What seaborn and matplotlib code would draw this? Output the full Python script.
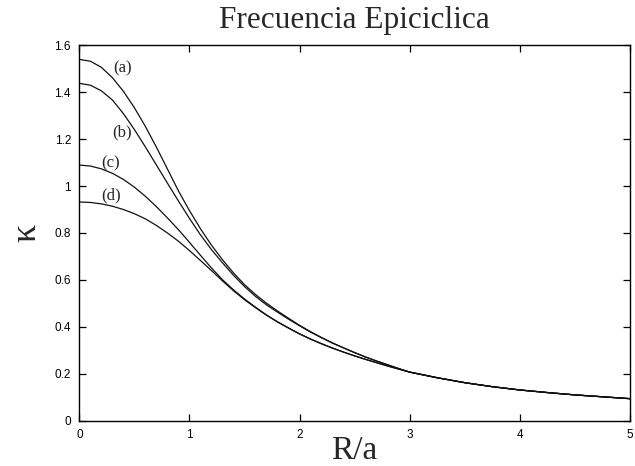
import numpy as np
import pandas as pd
import matplotlib
matplotlib.use("Agg")
import matplotlib.pyplot as plt
import seaborn as sns

# Radius in units of the scale length a
r_over_a = [0.0, 0.1, 0.2, 0.3, 0.4, 0.5, 0.6, 0.7, 0.8, 0.9,
            1.0, 1.1, 1.2, 1.3, 1.4, 1.5, 1.6, 1.7, 1.8, 1.9,
            2.0, 2.1, 2.2, 2.3, 2.4, 2.5, 2.6, 2.7, 2.8, 2.9,
            3.0, 3.25, 3.5, 3.75, 4.0, 4.25, 4.5, 4.75, 5.0]

# Epicyclic frequency for the four models
kappa_a = [1.539, 1.531, 1.505, 1.461, 1.403, 1.333, 1.253, 1.165, 1.072, 0.979,
           0.895, 0.818, 0.748, 0.686, 0.630, 0.580, 0.538, 0.501, 0.468, 0.437,
           0.407, 0.380, 0.355, 0.332, 0.311, 0.291, 0.272, 0.255, 0.239, 0.223,
           0.208, 0.184, 0.163, 0.146, 0.132, 0.121, 0.111, 0.103, 0.095]
kappa_b = [1.437, 1.429, 1.405, 1.366, 1.308, 1.240, 1.166, 1.089, 1.012, 0.936,
           0.862, 0.792, 0.729, 0.673, 0.620, 0.572, 0.530, 0.494, 0.463, 0.433,
           0.405, 0.378, 0.354, 0.331, 0.311, 0.291, 0.272, 0.255, 0.239, 0.223,
           0.208, 0.184, 0.163, 0.146, 0.132, 0.121, 0.111, 0.103, 0.095]
kappa_c = [1.089, 1.085, 1.073, 1.054, 1.028, 0.995, 0.956, 0.912, 0.864, 0.814,
           0.760, 0.705, 0.651, 0.601, 0.558, 0.519, 0.484, 0.451, 0.422, 0.396,
           0.371, 0.349, 0.329, 0.310, 0.293, 0.277, 0.262, 0.248, 0.234, 0.221,
           0.208, 0.184, 0.163, 0.146, 0.132, 0.121, 0.111, 0.103, 0.095]
kappa_d = [0.932, 0.930, 0.924, 0.914, 0.900, 0.882, 0.860, 0.832, 0.800, 0.765,
           0.725, 0.683, 0.640, 0.596, 0.554, 0.516, 0.482, 0.450, 0.421, 0.395,
           0.370, 0.348, 0.328, 0.310, 0.293, 0.277, 0.262, 0.248, 0.234, 0.221,
           0.208, 0.184, 0.163, 0.146, 0.132, 0.121, 0.111, 0.103, 0.095]

curve_names = ["(a)", "(b)", "(c)", "(d)"]
# label anchor points (R/a, kappa)
label_x = [0.388, 0.388, 0.287, 0.287]
label_y = [1.502, 1.230, 1.098, 0.962]

x_ticks = [0, 1, 2, 3, 4, 5]
y_ticks = [0, 0.2, 0.4, 0.6, 0.8, 1.0, 1.2, 1.4, 1.6]

sns.set_style("ticks")
plt.rcParams["font.family"] = ["Liberation Sans", "DejaVu Sans"]

frames = []
for name, vals in zip(curve_names, [kappa_a, kappa_b, kappa_c, kappa_d]):
    frames.append(pd.DataFrame({"R": r_over_a, "kappa": vals, "curve": name}))
df = pd.concat(frames, ignore_index=True)

fig = plt.figure(figsize=(6.35, 4.66), dpi=100)
ax = fig.add_axes([0.125, 0.0966, 0.867, 0.8068])

sns.lineplot(data=df, x="R", y="kappa", hue="curve", units="curve", estimator=None,
             palette=["#111111"] * 4, linewidth=0.9, legend=False, ax=ax)

serif = ["Liberation Serif", "DejaVu Serif"]
for name, lx, ly in zip(curve_names, label_x, label_y):
    ax.text(lx, ly, name, ha="center", va="center", fontsize=12, family=serif)

ax.set_xlim(0, 5)
ax.set_ylim(0, 1.6)
ax.set_xticks(x_ticks)
ax.set_yticks(y_ticks)
ax.set_xticklabels([f"{t:g}" for t in x_ticks])
ax.set_yticklabels([f"{t:g}" for t in y_ticks])
ax.tick_params(direction="in", length=5, width=0.9, labelsize=8.5,
               top=True, right=True, pad=6, colors="black")
for s in ax.spines.values():
    s.set_visible(True)
    s.set_linewidth(1.0)
    s.set_color("black")

ax.set_title("Frecuencia Epiciclica", fontsize=22.5, family=serif, pad=12)
ax.set_xlabel("R/a", fontsize=24, family=serif, labelpad=-4)
ax.set_ylabel("κ", fontsize=26, family=serif, labelpad=8)

fig.savefig("out.png", dpi=100)
